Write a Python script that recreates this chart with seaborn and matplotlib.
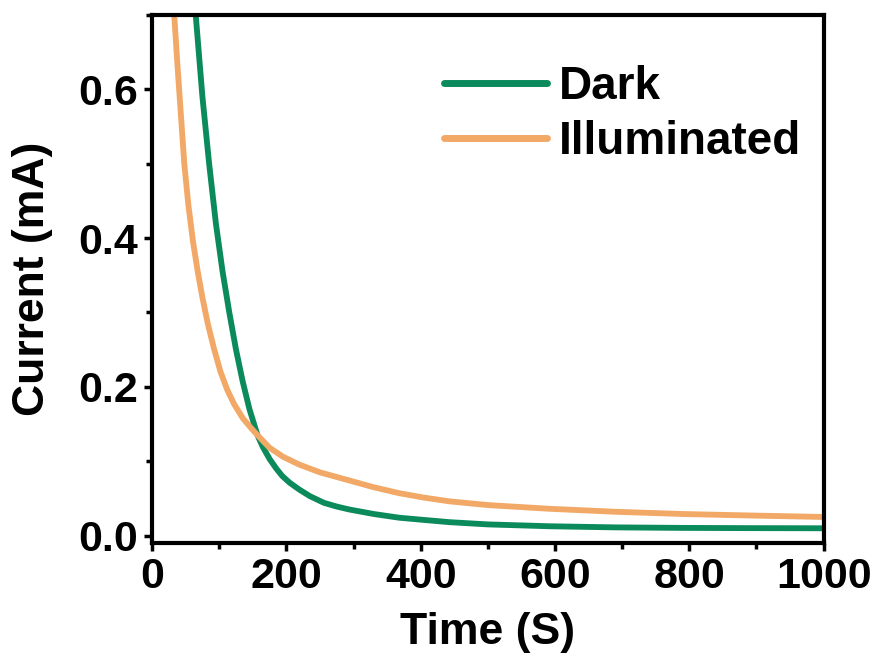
import pandas as pd
import seaborn as sns
import matplotlib
matplotlib.use("Agg")
import matplotlib.pyplot as plt
from matplotlib.ticker import MultipleLocator, FormatStrFormatter

# values
dark_time = [65, 75, 85, 95, 105, 115, 125, 135, 145, 157, 165, 175, 185,
             194, 205, 219, 235, 256, 275, 294, 330, 368, 405, 443, 500, 592, 690, 790, 890, 1000]
dark_current = [0.70, 0.59, 0.50, 0.42, 0.355, 0.30, 0.25, 0.207, 0.170, 0.135, 0.119, 0.103,
                0.090, 0.080, 0.071, 0.062, 0.053, 0.044, 0.039, 0.035,
                0.029, 0.024, 0.021, 0.018, 0.015, 0.0125, 0.011, 0.0103, 0.010, 0.0098]
illum_time = [33, 38, 43, 48, 54, 61, 68, 75, 83, 92, 102, 112, 122, 135, 147, 157, 175,
              195, 219, 250, 294, 330, 368, 405, 443, 500, 592, 690, 790, 890, 1000]
illum_current = [0.70, 0.63, 0.565, 0.50, 0.445, 0.395, 0.355, 0.32, 0.285, 0.252, 0.220, 0.196,
                 0.177, 0.158, 0.145, 0.135, 0.118, 0.106, 0.0955, 0.085, 0.074, 0.065, 0.057,
                 0.051, 0.046, 0.041, 0.036, 0.032, 0.029, 0.027, 0.025]

df = pd.concat([
    pd.DataFrame({"Time": dark_time, "Current": dark_current, "cond": "Dark"}),
    pd.DataFrame({"Time": illum_time, "Current": illum_current, "cond": "Illuminated"}),
])

sns.set_style("ticks")
plt.rcParams["font.family"] = ["Liberation Sans", "DejaVu Sans"]
plt.rcParams["font.weight"] = "bold"
for k in ["text.color", "axes.labelcolor", "xtick.color", "ytick.color", "axes.edgecolor"]:
    plt.rcParams[k] = "black"

fig = plt.figure(figsize=(8.79, 6.55), dpi=100)
ax = fig.add_axes([0.173, 0.171, 0.764, 0.806])

sns.lineplot(data=df, x="Time", y="Current", hue="cond",
             palette={"Dark": "#0b8a5c", "Illuminated": "#f2a866"},
             linewidth=4.2, ax=ax)

ax.set_xlim(0, 1000)
ax.set_ylim(-0.01, 0.70)
ax.xaxis.set_major_locator(MultipleLocator(200))
ax.xaxis.set_minor_locator(MultipleLocator(100))
ax.yaxis.set_major_locator(MultipleLocator(0.2))
ax.yaxis.set_minor_locator(MultipleLocator(0.1))
ax.yaxis.set_major_formatter(FormatStrFormatter("%.1f"))

for s in ax.spines.values():
    s.set_linewidth(3)
    s.set_visible(True)
ax.tick_params(which="major", length=6, width=2.5, labelsize=31, pad=4)
ax.tick_params(which="minor", length=4, width=2.5)
for lab in ax.get_xticklabels() + ax.get_yticklabels():
    lab.set_fontweight("bold")

ax.set_xlabel("Time (S)", fontsize=32, fontweight="bold", labelpad=11)
ax.set_ylabel("Current (mA)", fontsize=32, fontweight="bold", labelpad=18)

leg = ax.legend(title=None, frameon=False, loc="upper right", fontsize=33,
                handlelength=2.25, handletextpad=0.26, labelspacing=0.25,
                borderaxespad=0.3, bbox_to_anchor=(1.014, 0.967))
for line in leg.get_lines():
    line.set_linewidth(5)
    line.set_solid_capstyle("round")
for t in leg.get_texts():
    t.set_fontweight("bold")

fig.savefig("out.png", dpi=100)
